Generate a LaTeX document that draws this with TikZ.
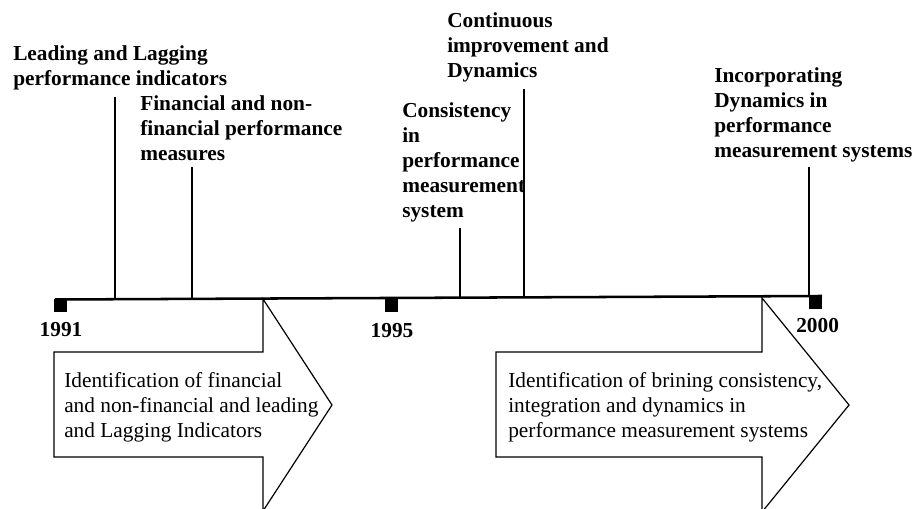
\documentclass[tikz,border=0pt]{standalone}
\usepackage{fontspec}
\setmainfont{Liberation Serif}
\begin{document}
\begin{tikzpicture}[x=0.75pt,y=-0.75pt,
  lbl/.style={anchor=north west,inner sep=0pt,align=left,font=\fontsize{16pt}{18.75pt}\selectfont\bfseries},
  yr/.style={anchor=base,inner sep=0pt,font=\fontsize{16pt}{18.75pt}\selectfont\bfseries},
  atext/.style={anchor=north west,inner sep=0pt,align=left,font=\fontsize{16pt}{18.75pt}\selectfont},
  tick/.style={line width=1.1pt},
  sq/.style={fill=black,draw=none,minimum size=9.75pt,inner sep=0pt,anchor=north west},
  bigarrow/.style={draw=black,line width=0.9pt,fill=white,line join=miter}]
\useasboundingbox (0,0) rectangle (920,509);
\clip (0,0) rectangle (920,509);
% timeline
\coordinate (tl0) at (55,299.5);
\coordinate (tl1) at (822,296);
% arrows
\draw[bigarrow] (54,352) -- (263,352) -- (263,299) -- (332,405) -- (263,511) -- (263,457) -- (54,457) -- cycle;
\draw[bigarrow] (496,352) -- (762,352) -- (762,298) -- (849,405) -- (762,512) -- (762,457) -- (496,457) -- cycle;
\draw[line width=1.9pt] (tl0) -- (tl1);
% year markers
\node[sq] (s1991) at (54,299) {};
\node[sq] (s1995) at (385,298.5) {};
\node[sq] (s2000) at (809,296) {};
\node[yr] (y1991) at (61,336) {1991};
\node[yr] (y1995) at (392,338) {1995};
\node[yr,anchor=base west] (y2000) at (796,333) {2000};
% labels
\node[lbl] (l1) at (13,45) {Leading and Lagging\\performance indicators};
\node[lbl] (l2) at (140,95) {Financial and non-\\financial performance\\measures};
\node[lbl] (l3) at (402,102) {Consistency\\in\\performance\\measurement\\system};
\node[lbl] (l4) at (447,12) {Continuous\\improvement and\\Dynamics};
\node[lbl] (l5) at (714,67) {Incorporating\\Dynamics in\\performance\\measurement systems};
% ticks
\coordinate (t1a) at (115,97);  \coordinate (t1b) at (115,299.2);
\coordinate (t2a) at (192,167); \coordinate (t2b) at (192,298.9);
\coordinate (t3a) at (460,228); \coordinate (t3b) at (460,297.7);
\coordinate (t4a) at (524,89);  \coordinate (t4b) at (524,297.4);
\coordinate (t5a) at (809,167); \coordinate (t5b) at (809,296.1);
\draw[tick] (t1a) -- (t1b);
\draw[tick] (t2a) -- (t2b);
\draw[tick] (t3a) -- (t3b);
\draw[tick] (t4a) -- (t4b);
\draw[tick] (t5a) -- (t5b);
% arrow texts
\node[atext] (a1) at (64,372) {Identification of financial\\and non-financial and leading\\and Lagging Indicators};
\node[atext] (a2) at (508,372) {Identification of brining consistency,\\integration and dynamics in\\performance measurement systems};
\end{tikzpicture}
\end{document}
